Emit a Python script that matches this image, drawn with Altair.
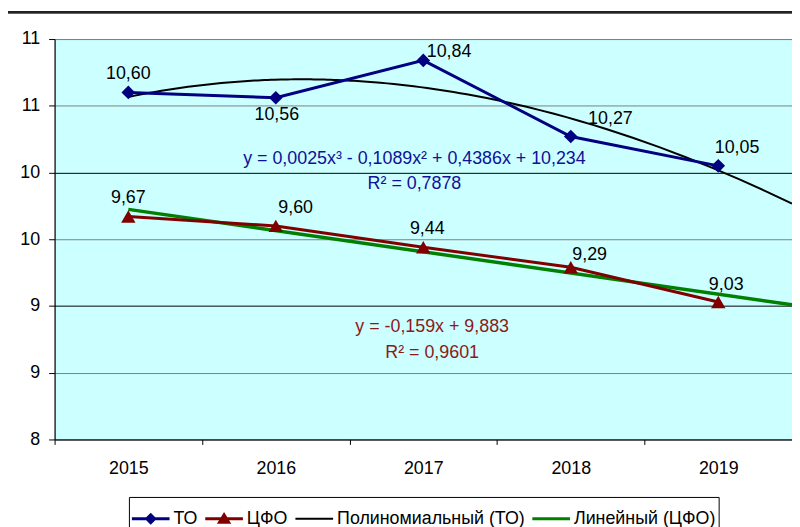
import altair as alt
import pandas as pd

# ---- data ----
years = [2015, 2016, 2017, 2018, 2019]
to_values = [10.60, 10.56, 10.84, 10.27, 10.05]
cfo_values = [9.67, 9.60, 9.44, 9.29, 9.03]
series_names = ["ТО", "ЦФО", "Полиномиальный (ТО)", "Линейный (ЦФО)"]
y_ticks = [8, 8.5, 9, 9.5, 10, 10.5, 11]
x_bounds = [2014.5, 2015.5, 2016.5, 2017.5, 2018.5, 2019.5]
poly_text = ["y = 0,0025x³ - 0,1089x² + 0,4386x + 10,234", "R² = 0,7878"]
lin_text = ["y = -0,159x + 9,883", "R² = 0,9601"]

# ---- annotation anchors (data units) ----
poly_x = [2016.94, 2016.94]
poly_y = [10.10, 9.915]
lin_x = [2017.06, 2017.06]
lin_y = [8.84, 8.647]

# ---- styles ----
series_colors = ["#000080", "#800000", "#000000", "#008000"]
legend_shapes = [
    "M-1,-0.075H1V0.075H-1Z M0,-0.32L0.32,0L0,0.32L-0.32,0Z",
    "M-1,-0.075H1V0.075H-1Z M0,-0.36L0.38,0.27L-0.38,0.27Z",
    "M-1,-0.05H1V0.05H-1Z",
    "M-1,-0.075H1V0.075H-1Z",
]
to_label_dx = [0, 1, 26, 40, 19]
to_label_dy = [-19, 17, -8, -18, -18]
cfo_label_dx = [0, 20, 4, 19, 8]
cfo_label_dy = [-19, -18, -18, -12, -17]
FONT = "Liberation Sans"
FS = 18

to_df = pd.DataFrame({"year": years, "value": to_values, "series": "ТО"})
cfo_df = pd.DataFrame({"year": years, "value": cfo_values, "series": "ЦФО"})
for d in (to_df, cfo_df):
    d["label"] = [f"{v:.2f}".replace(".", ",") for v in d["value"]]
legend_df = pd.DataFrame({"series": series_names})

x_scale = alt.Scale(domain=[x_bounds[0], x_bounds[-1]], nice=False, zero=False)
y_scale = alt.Scale(domain=[y_ticks[0], y_ticks[-1]], nice=False, zero=False)

x_enc = alt.X(
    "year:Q", scale=x_scale, title=None,
    axis=alt.Axis(
        values=x_bounds, labelExpr="datum.value < 2019 ? format(datum.value + 0.5, 'd') : ''",
        labelOffset=74.4, labelFlush=False, grid=False, domainColor="black",
        tickColor="black", tickSize=5, labelFont=FONT, labelFontSize=FS,
        labelColor="black", labelPadding=15, labelOverlap=False,
    ),
)
y_enc = alt.Y(
    "value:Q", scale=y_scale, title=None,
    axis=alt.Axis(
        values=y_ticks, format=".0f", grid=True,
        gridColor={"condition": {"test": "datum.value === 9 || datum.value === 10", "value": "#000000"}, "value": "#808080"},
        domainColor="black", tickColor="black", tickSize=6, labelFont=FONT,
        labelFontSize=FS, labelColor="black", labelPadding=9,
    ),
)

legend = alt.Legend(
    orient="none", legendX=75, legendY=462, direction="horizontal", title=None,
    strokeColor="black", padding=3, symbolSize=1444, symbolStrokeWidth=0,
    labelFont=FONT, labelFontSize=FS, labelColor="black", labelOffset=4,
    labelLimit=500, columnPadding=7, fillColor="white", symbolOpacity=1,
)

base_to = alt.Chart(to_df)
base_cfo = alt.Chart(cfo_df)

poly = base_to.transform_regression(
    "year", "value", method="poly", order=3, extent=[2015, 2019.5]
).mark_line(color="black", strokeWidth=2).encode(x=x_enc, y=y_enc)

lin = base_cfo.transform_regression(
    "year", "value", method="linear", extent=[2015, 2019.5]
).mark_line(color="#008000", strokeWidth=3.5).encode(x=x_enc, y=y_enc)

to_line = base_to.mark_line(color=series_colors[0], strokeWidth=3).encode(x=x_enc, y=y_enc)
cfo_line = base_cfo.mark_line(color=series_colors[1], strokeWidth=3).encode(x=x_enc, y=y_enc)

to_pts = base_to.mark_point(shape="diamond", filled=True, size=190, opacity=1, color=series_colors[0]).encode(
    x=x_enc, y=y_enc
)
cfo_pts = base_cfo.mark_point(shape="triangle-up", filled=True, size=210, opacity=1, color=series_colors[1]).encode(
    x=x_enc, y=y_enc
)

# legend-only layer (drawn off-canvas, legend shows the series entries)
legend_layer = alt.Chart(legend_df).mark_point(filled=True, opacity=1).encode(
    x=alt.value(-2000), y=alt.value(-2000),
    color=alt.Color("series:N", scale=alt.Scale(domain=series_names, range=series_colors), legend=legend),
    shape=alt.Shape("series:N", scale=alt.Scale(domain=series_names, range=legend_shapes), legend=legend),
)

labels = []
for df, dxs, dys in ((to_df, to_label_dx, to_label_dy), (cfo_df, cfo_label_dx, cfo_label_dy)):
    for i, yr in enumerate(years):
        labels.append(
            alt.Chart(df).transform_filter(alt.datum.year == yr).mark_text(
                font=FONT, fontSize=FS, color="black", dx=dxs[i], dy=dys[i], baseline="middle"
            ).encode(x=x_enc, y=y_enc, text="label:N")
        )

poly_df = pd.DataFrame({"x": poly_x, "y": poly_y, "t": poly_text})
lin_df = pd.DataFrame({"x": lin_x, "y": lin_y, "t": lin_text})
poly_note = alt.Chart(poly_df).mark_text(font=FONT, fontSize=FS, color="#101098", baseline="middle").encode(
    x=alt.X("x:Q", scale=x_scale), y=alt.Y("y:Q", scale=y_scale), text="t:N"
)
lin_note = alt.Chart(lin_df).mark_text(font=FONT, fontSize=FS, color="#8B1A1A", baseline="middle").encode(
    x=alt.X("x:Q", scale=x_scale), y=alt.Y("y:Q", scale=y_scale), text="t:N"
)

# outer chart frame
frame_v = alt.Chart(legend_df).mark_rule(color="#222222", strokeWidth=2).encode(
    x=alt.value(-48), y=alt.value(-27), y2=alt.value(520)
)
frame_h = alt.Chart(legend_df).mark_rule(color="#222222", strokeWidth=2).encode(
    x=alt.value(-48), x2=alt.value(800), y=alt.value(-27)
)

chart = alt.layer(
    frame_v, frame_h, poly, lin, to_line, cfo_line, to_pts, cfo_pts, poly_note, lin_note, legend_layer, *labels
).properties(
    width=744, height=404,
    autosize=alt.AutoSizeParams(type="none"),
    padding={"left": 47, "top": 29, "right": 0, "bottom": 86},
    background="white",
).configure_view(fill="#CCFFFF", stroke="#808080", strokeWidth=1)

chart.save("out.html", embed_options={"renderer": "svg", "actions": False})
